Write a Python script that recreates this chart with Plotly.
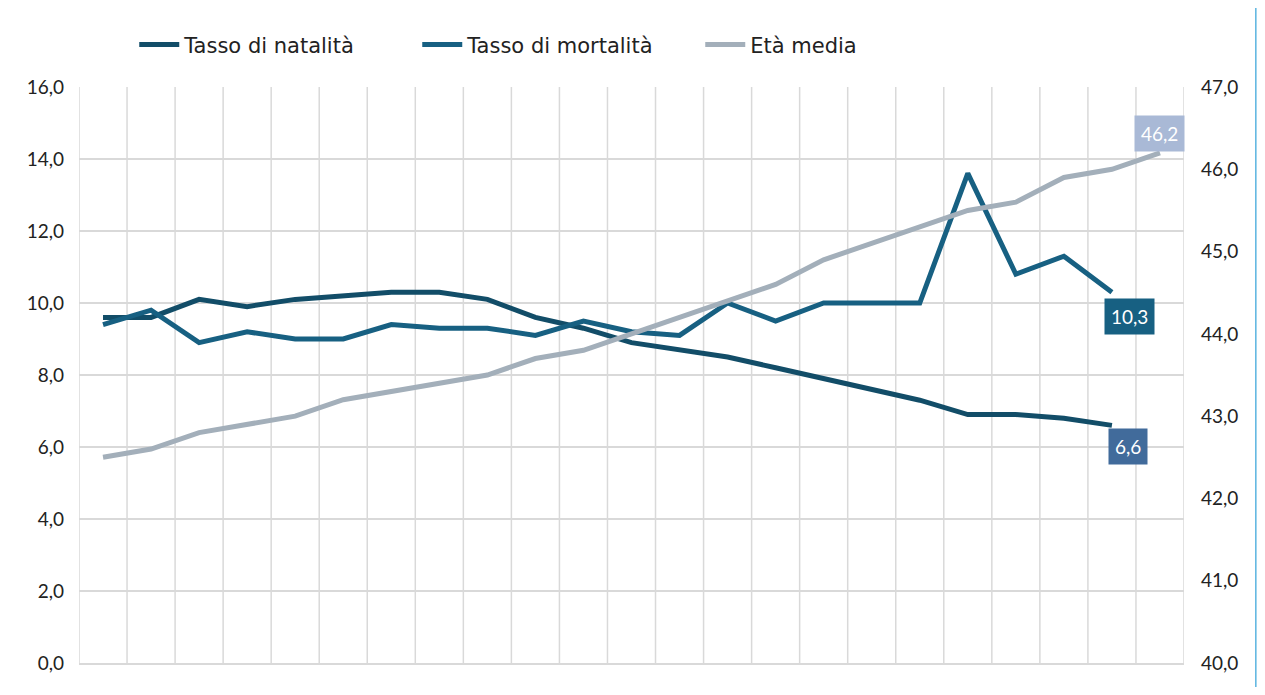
import plotly.graph_objects as go

anni = [str(a) for a in range(2002, 2025)]
natalita = [9.6, 9.6, 10.1, 9.9, 10.1, 10.2, 10.3, 10.3, 10.1, 9.6, 9.3, 8.9,
            8.7, 8.5, 8.2, 7.9, 7.6, 7.3, 6.9, 6.9, 6.8, 6.6]
mortalita = [9.4, 9.8, 8.9, 9.2, 9.0, 9.0, 9.4, 9.3, 9.3, 9.1, 9.5, 9.2,
             9.1, 10.0, 9.5, 10.0, 10.0, 10.0, 13.6, 10.8, 11.3, 10.3]
eta_media = [42.5, 42.6, 42.8, 42.9, 43.0, 43.2, 43.3, 43.4, 43.5, 43.7, 43.8, 44.0,
             44.2, 44.4, 44.6, 44.9, 45.1, 45.3, 45.5, 45.6, 45.9, 46.0, 46.2]

c_nat = "#124d68"
c_mor = "#176082"
c_eta = "#a3afba"
GRID = "#d9d9d9"
FONT = "Lato"
LFONT = "DejaVu Sans"

fig = go.Figure()
fig.add_trace(go.Scatter(x=anni[:len(natalita)], y=natalita, name="Tasso di natalità",
                         mode="lines", line=dict(color=c_nat, width=5)))
fig.add_trace(go.Scatter(x=anni[:len(mortalita)], y=mortalita, name="Tasso di mortalità",
                         mode="lines", line=dict(color=c_mor, width=5)))
fig.add_trace(go.Scatter(x=anni, y=eta_media, name="Età media", yaxis="y2",
                         mode="lines", line=dict(color=c_eta, width=5)))

# vertical gridlines on category boundaries, limited to the plot area
for i in range(len(anni) + 1):
    fig.add_shape(type="line", xref="x", yref="y", x0=i - 0.5, x1=i - 0.5, y0=0, y1=16,
                  line=dict(color=GRID, width=1.5), layer="below")

def lab(i, y, text, bg, yref, xs, ys):
    fig.add_annotation(x=i, y=y, xref="x", yref=yref, text=text, showarrow=False,
                       bgcolor=bg, font=dict(color="white", size=19, family=FONT),
                       borderpad=6, xshift=xs, yshift=ys)

lab(len(eta_media) - 1, eta_media[-1], "46,2", "#a9b9d6", "y2", 0, 19)
lab(len(mortalita) - 1, mortalita[-1], "10,3", "#176082", "y", 18, -24)
lab(len(natalita) - 1, natalita[-1], "6,6", "#416b9b", "y", 16, -21)

fig.add_shape(type="line", xref="paper", yref="paper", x0=1.065, x1=1.065,
              y0=-0.06, y1=1.16, line=dict(color="#5ab4e0", width=1.5))

fig.update_layout(
    width=1249, height=679,
    margin=dict(l=71, r=73, t=79, b=24),
    paper_bgcolor="white", plot_bgcolor="white",
    separators=",.",
    font=dict(family=FONT, size=18, color="#222222"),
    showlegend=True,
    legend=dict(orientation="h", x=0.05, xanchor="left", y=1.073, yanchor="middle",
                font=dict(size=21, family=LFONT, color="#222222"), itemwidth=40,
                entrywidth=228, traceorder="normal"),
    xaxis=dict(type="category", range=[-0.5, len(anni) - 0.5],
               showgrid=False, showticklabels=False, ticks="",
               showline=True, linecolor=GRID, linewidth=1.5, zeroline=False),
    yaxis=dict(range=[0, 16], dtick=2, tickformat=".1f", showgrid=True,
               gridcolor=GRID, gridwidth=1.5, zeroline=False, ticks="",
               ticklabelstandoff=14, tickfont=dict(size=19)),
    yaxis2=dict(range=[40, 47], dtick=1, tickformat=".1f", overlaying="y", side="right",
                showgrid=False, zeroline=False, ticks="", ticklabelstandoff=16,
                tickfont=dict(size=19)),
)

fig.write_html("out.html")
